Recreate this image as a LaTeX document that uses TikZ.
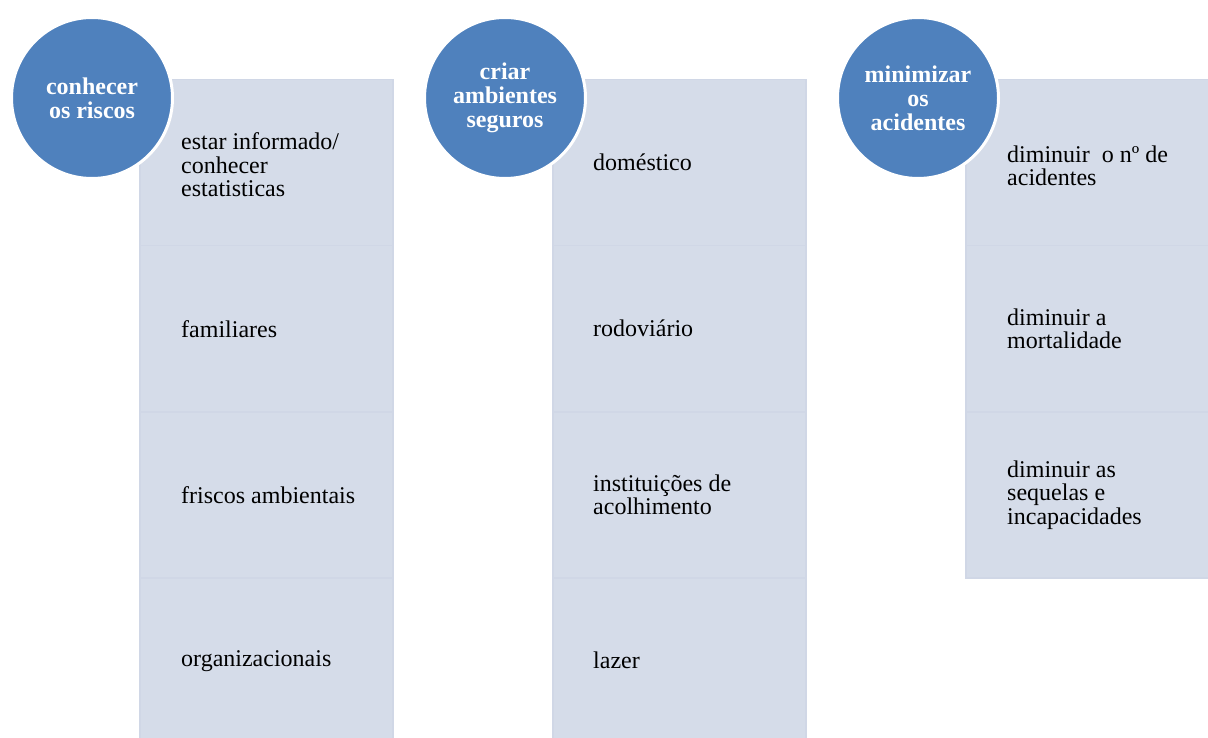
\documentclass[tikz,border=0pt]{standalone}
\usepackage{fontspec}
\setmainfont{LiberationSerif}[Extension=.ttf, UprightFont=*-Regular, BoldFont=*-Bold, ItalicFont=*-Italic, BoldItalicFont=*-BoldItalic]
\definecolor{boxfill}{HTML}{D5DCE9}
\definecolor{boxline}{HTML}{D0D7E6}
\definecolor{circfill}{HTML}{4F81BD}
\begin{document}
\begin{tikzpicture}[x=1pt,y=-1pt,
  itembox/.style={draw=boxline, line width=1.5pt, fill=boxfill, minimum width=253pt, minimum height=166pt, inner sep=0pt, anchor=north west},
  itemtext/.style={anchor=west, align=left, inner sep=0pt, font=\fontsize{24}{23.5}\selectfont, text=black},
  headcirc/.style={circle, fill=circfill, draw=white, line width=3pt, minimum size=161pt, inner sep=0pt, align=center, text=white, font=\fontsize{24}{24}\selectfont\bfseries}]
\useasboundingbox (0,0) rectangle (1208,738);
\clip (0,0) rectangle (1208,738);
% column 1
\node[itembox] (a1) at (139,79) {};
\node[itembox] (a2) at (139,245) {};
\node[itembox] (a3) at (139,411) {};
\node[itembox] (a4) at (139,577) {};
% column 2
\node[itembox] (b1) at (552,79) {};
\node[itembox] (b2) at (552,245) {};
\node[itembox] (b3) at (552,411) {};
\node[itembox] (b4) at (552,577) {};
% column 3
\node[itembox] (d1) at (965,79) {};
\node[itembox] (d2) at (965,245) {};
\node[itembox] (d3) at (965,411) {};
% texts
\node[itemtext] (ta1) at ([xshift=42pt,yshift=-2pt]a1.west) {estar informado/\\conhecer\\estatisticas};
\node[itemtext] (ta2) at ([xshift=42pt]a2.west) {familiares};
\node[itemtext] (ta3) at ([xshift=42pt]a3.west) {friscos ambientais};
\node[itemtext] (ta4) at ([xshift=42pt]a4.west) {organizacionais};
\node[itemtext] (tb1) at ([xshift=41pt]b1.west) {doméstico};
\node[itemtext] (tb2) at ([xshift=41pt]b2.west) {rodoviário};
\node[itemtext] (tb3) at ([xshift=41pt]b3.west) {instituições de\\acolhimento};
\node[itemtext] (tb4) at ([xshift=41pt]b4.west) {lazer};
\node[itemtext] (td1) at ([xshift=42pt,yshift=-3pt]d1.west) {diminuir\ \ o nº de\\acidentes};
\node[itemtext] (td2) at ([xshift=42pt]d2.west) {diminuir a\\mortalidade};
\node[itemtext] (td3) at ([xshift=42pt]d3.west) {diminuir as\\sequelas e\\incapacidades};
% circles
\node[headcirc] (c1) at (92,98) {conhecer\\os riscos};
\node[headcirc] (c2) at (505,98) {criar\\ambientes\\seguros};
\node[headcirc] (c3) at (918,98) {minimizar\\os\\acidentes};
\end{tikzpicture}
\end{document}
